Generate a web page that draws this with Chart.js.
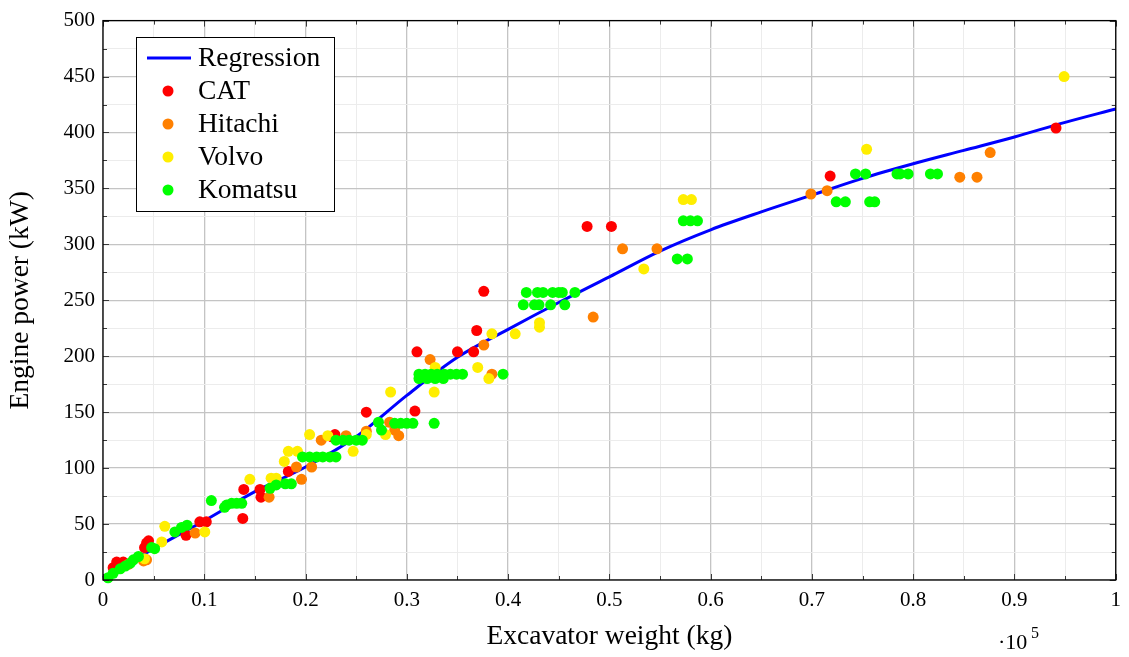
<!DOCTYPE html>
<html>
<head>
<meta charset="utf-8">
<script src="https://cdn.jsdelivr.net/npm/chart.js@4.4.0/dist/chart.umd.min.js"></script>
<style>
  html, body { margin: 0; padding: 0; background: #fff; }
  #wrap { width: 1129px; height: 657px; }
</style>
</head>
<body>
<div id="wrap"><canvas id="myChart" width="1129" height="657"></canvas></div>
<script>
// weights in units of 10^5 kg, power in kW
const regX = [0, 0.05, 0.1, 0.15, 0.2, 0.25, 0.3, 0.35, 0.4, 0.45, 0.5, 0.55, 0.6, 0.65, 0.7, 0.75, 0.8, 0.85, 0.9, 0.95, 1.0];
const regY = [2, 28, 53, 79, 101, 128, 165, 199, 224, 248, 271, 294, 313, 329, 344, 359, 372, 384, 396, 409, 421];

const catX = [0.010, 0.0135, 0.020, 0.041, 0.043, 0.045, 0.082, 0.0956, 0.102, 0.138, 0.139, 0.155, 0.156, 0.183, 0.226, 0.229, 0.260, 0.308, 0.310, 0.350, 0.366, 0.369, 0.376, 0.478, 0.502, 0.718, 0.941];
const catY = [11, 16, 16, 29, 33, 35, 40, 52, 52, 55, 81, 81, 74, 97, 128, 130, 150, 151, 204, 204, 204, 223, 258, 316, 316, 361, 404];

const hitachiX = [0.025, 0.040, 0.043, 0.091, 0.164, 0.191, 0.196, 0.206, 0.2155, 0.240, 0.260, 0.283, 0.288, 0.292, 0.323, 0.376, 0.384, 0.484, 0.513, 0.547, 0.699, 0.715, 0.846, 0.863, 0.876];
const hitachiY = [14, 17, 18, 42, 74, 101, 90, 101, 125, 129, 133, 141, 134, 129, 197, 210, 184, 235, 296, 296, 345, 348, 360, 360, 382];

const volvoX = [0.041, 0.058, 0.061, 0.1005, 0.145, 0.166, 0.171, 0.179, 0.183, 0.192, 0.204, 0.222, 0.247, 0.260, 0.279, 0.284, 0.327, 0.328, 0.370, 0.381, 0.384, 0.407, 0.431, 0.431, 0.534, 0.573, 0.581, 0.754, 0.949];
const volvoY = [19, 34, 48, 43, 90, 91, 91, 106, 115, 115, 130, 129, 115, 130, 130, 168, 168, 190, 190, 180, 220, 220, 226, 230, 278, 340, 340, 385, 450];

const komatsuX = [0.005, 0.010, 0.017, 0.022, 0.027, 0.030, 0.035, 0.048, 0.051, 0.071, 0.0775, 0.083, 0.107, 0.120, 0.122, 0.127, 0.132, 0.137, 0.165, 0.171, 0.180, 0.186,
  0.197, 0.204, 0.211, 0.217, 0.224, 0.230, 0.230, 0.237, 0.243, 0.250, 0.256, 0.272, 0.275, 0.288, 0.294, 0.300, 0.306, 0.327,
  0.312, 0.318, 0.324, 0.330, 0.337, 0.343, 0.349, 0.355, 0.312, 0.320, 0.328, 0.336, 0.395,
  0.415, 0.418, 0.426, 0.429, 0.4305, 0.4345, 0.442, 0.444, 0.450, 0.4535, 0.456, 0.466, 0.567, 0.577, 0.573, 0.580, 0.587,
  0.724, 0.733, 0.743, 0.753, 0.757, 0.762, 0.784, 0.787, 0.795, 0.817, 0.824];
const komatsuY = [2, 6, 10, 12.5, 15, 18, 21, 29, 28, 43, 47, 49, 71, 65, 67, 68.5, 68.5, 68.5, 82, 85, 86, 86,
  110, 110, 110, 110, 110, 110, 125, 125, 125, 125, 125, 141, 134, 140, 140, 140, 140, 140,
  184, 184, 184, 184, 184, 184, 184, 184, 180, 180, 180, 180, 184,
  246, 257, 246, 257, 246, 257, 246, 257, 257, 257, 246, 257, 287, 287, 321, 321, 321,
  338, 338, 363, 363, 338, 338, 363, 363, 363, 363, 363];

const xTicks = [0, 0.1, 0.2, 0.3, 0.4, 0.5, 0.6, 0.7, 0.8, 0.9, 1];
const yTicks = [0, 50, 100, 150, 200, 250, 300, 350, 400, 450, 500];

const FONT = "'Liberation Serif', 'DejaVu Serif', serif";

function pts(xs, ys) {
  return xs.map((x, i) => ({ x: x, y: ys[i] }));
}
function isMajor(v, step) {
  return Math.abs(v / step - Math.round(v / step)) < 1e-6;
}

const datasets = [
  { label: "Regression", data: pts(regX, regY), showLine: true, borderColor: "#0000ff", backgroundColor: "#0000ff",
    borderWidth: 3, pointRadius: 0, cubicInterpolationMode: "monotone", order: 5 },
  { label: "CAT", data: pts(catX, catY), color: "#ff0000", order: 4 },
  { label: "Hitachi", data: pts(hitachiX, hitachiY), color: "#ff8000", order: 3 },
  { label: "Volvo", data: pts(volvoX, volvoY), color: "#ffee00", order: 2 },
  { label: "Komatsu", data: pts(komatsuX, komatsuY), color: "#00ff00", order: 1 }
];
datasets.forEach(d => {
  if (d.color) {
    d.backgroundColor = d.color;
    d.borderColor = d.color;
    d.pointRadius = 5.5;
    d.pointBorderWidth = 0;
    d.showLine = false;
  }
  d.clip = false;
});

// box, inward ticks, legend and the 10^5 factor
const decorations = {
  id: "decorations",
  afterDatasetsDraw(chart) {
    const ctx = chart.ctx;
    const a = chart.chartArea;
    const xs = chart.scales.x, ys = chart.scales.y;
    ctx.save();
    ctx.strokeStyle = "#3a3a3a";
    ctx.lineWidth = 1;
    ctx.beginPath();
    for (let v = 0; v <= 1.0001; v += 0.05) {
      const px = Math.round(xs.getPixelForValue(v)) + 0.5;
      const len = isMajor(v, 0.1) ? 6 : 4;
      ctx.moveTo(px, a.bottom); ctx.lineTo(px, a.bottom - len);
      ctx.moveTo(px, a.top); ctx.lineTo(px, a.top + len);
    }
    for (let v = 0; v <= 500; v += 25) {
      const py = Math.round(ys.getPixelForValue(v)) + 0.5;
      const len = isMajor(v, 50) ? 6 : 4;
      ctx.moveTo(a.left, py); ctx.lineTo(a.left + len, py);
      ctx.moveTo(a.right, py); ctx.lineTo(a.right - len, py);
    }
    ctx.stroke();
    ctx.strokeStyle = "#000";
    ctx.lineWidth = 1.3;
    ctx.strokeRect(a.left, a.top, a.right - a.left, a.bottom - a.top);

    // legend
    const lx = 136.5, ly = 37.5, lw = 198, lh = 174;
    ctx.fillStyle = "#fff";
    ctx.fillRect(lx, ly, lw, lh);
    ctx.strokeStyle = "#000";
    ctx.lineWidth = 1;
    ctx.strokeRect(lx, ly, lw, lh);
    ctx.font = "27.5px " + FONT;
    ctx.textBaseline = "middle";
    ctx.textAlign = "left";
    chart.data.datasets.forEach((d, i) => {
      const cy = 58 + i * 33;
      if (d.showLine) {
        ctx.strokeStyle = d.borderColor;
        ctx.lineWidth = 3;
        ctx.beginPath();
        ctx.moveTo(147, cy); ctx.lineTo(191, cy);
        ctx.stroke();
      } else {
        ctx.fillStyle = d.backgroundColor;
        ctx.beginPath();
        ctx.arc(168, cy, 5.5, 0, Math.PI * 2);
        ctx.fill();
      }
      ctx.fillStyle = "#000";
      ctx.fillText(d.label, 198, cy + 1);
    });

    // scale factor
    ctx.textBaseline = "alphabetic";
    ctx.font = "22px " + FONT;
    ctx.fillText("\u00b710", 998, 649);
    ctx.font = "16px " + FONT;
    ctx.fillText("5", 1031, 638);
    ctx.restore();
  }
};

new Chart("myChart", {
  type: "scatter",
  data: { datasets: datasets },
  options: {
    responsive: false,
    animation: false,
    events: [],
    layout: { padding: { top: 20, right: 11, left: 0, bottom: 0 } },
    scales: {
      x: {
        type: "linear", min: 0, max: 1,
        afterBuildTicks: s => { s.ticks = []; for (let i = 0; i <= 20; i++) s.ticks.push({ value: i * 0.05 }); },
        afterFit: s => { s.height = 77; },
        border: { display: false },
        grid: {
          drawTicks: false,
          color: c => (c.tick && isMajor(c.tick.value, 0.1)) ? "#c4c4c4" : "#ececec",
          lineWidth: c => (c.tick && isMajor(c.tick.value, 0.1)) ? 1.3 : 1
        },
        ticks: {
          autoSkip: false, maxRotation: 0, padding: 8, color: "#000",
          font: { family: FONT, size: 21 },
          callback: v => xTicks.find(t => Math.abs(t - v) < 1e-6) !== undefined ? String(+v.toFixed(1)) : ""
        },
        title: { display: true, text: "Excavator weight (kg)", color: "#000",
          font: { family: FONT, size: 27.5 }, padding: { top: 0, bottom: 4 } }
      },
      y: {
        type: "linear", min: 0, max: 500,
        afterBuildTicks: s => { s.ticks = []; for (let i = 0; i <= 20; i++) s.ticks.push({ value: i * 25 }); },
        afterFit: s => { s.width = 103; },
        border: { display: false },
        grid: {
          drawTicks: false,
          color: c => (c.tick && isMajor(c.tick.value, 50)) ? "#c4c4c4" : "#ececec",
          lineWidth: c => (c.tick && isMajor(c.tick.value, 50)) ? 1.3 : 1
        },
        ticks: {
          autoSkip: false, padding: 8, color: "#000",
          font: { family: FONT, size: 21 },
          callback: v => yTicks.includes(v) ? String(v) : ""
        },
        title: { display: true, text: "Engine power (kW)", color: "#000",
          font: { family: FONT, size: 27.5 }, padding: { top: 4, bottom: 0 } }
      }
    },
    plugins: {
      legend: { display: false },
      tooltip: { enabled: false }
    }
  },
  plugins: [decorations]
});
</script>
</body>
</html>
